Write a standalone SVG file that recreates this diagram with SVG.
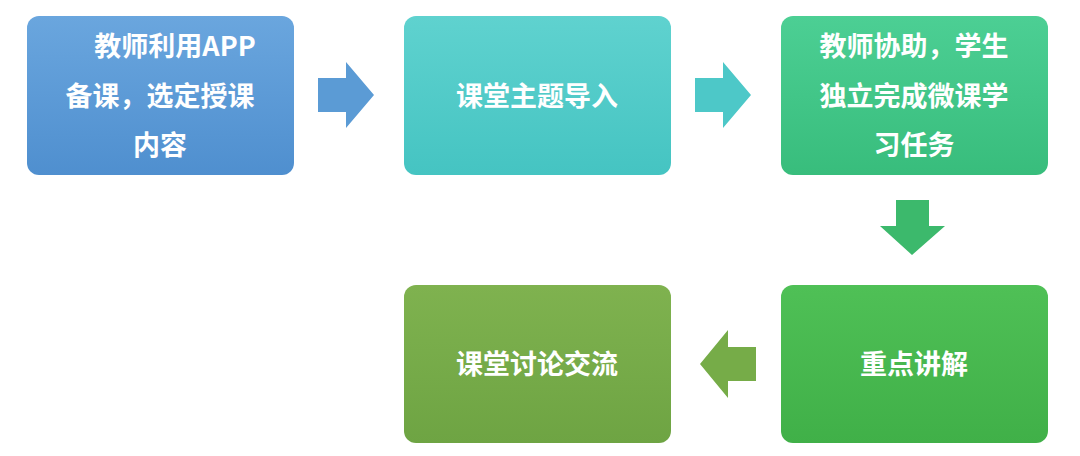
<svg xmlns="http://www.w3.org/2000/svg" width="1080" height="456" viewBox="0 0 1080 456">
<defs>
<linearGradient id="g1" x1="0" y1="0" x2="0" y2="1"><stop offset="0" stop-color="#6aa6de"/><stop offset="1" stop-color="#4f8fcf"/></linearGradient>
<linearGradient id="g2" x1="0" y1="0" x2="0" y2="1"><stop offset="0" stop-color="#5fd2cf"/><stop offset="1" stop-color="#45c4c2"/></linearGradient>
<linearGradient id="g3" x1="0" y1="0" x2="0" y2="1"><stop offset="0" stop-color="#4ccf94"/><stop offset="1" stop-color="#38bd7c"/></linearGradient>
<linearGradient id="g4" x1="0" y1="0" x2="0" y2="1"><stop offset="0" stop-color="#7fb24f"/><stop offset="1" stop-color="#6ea443"/></linearGradient>
<linearGradient id="g5" x1="0" y1="0" x2="0" y2="1"><stop offset="0" stop-color="#4fc056"/><stop offset="1" stop-color="#40b048"/></linearGradient>
</defs>
<style>
text{font-family:"Noto Sans CJK SC","Liberation Sans",sans-serif;font-weight:bold;font-size:27px;fill:#fff;text-anchor:middle}
</style>
<rect width="1080" height="456" fill="#fff"/>
<g id="connectors">
<polygon points="318,78 346,78 346,62 374,95 346,128 346,112 318,112" fill="#5b9bd5"/>
<polygon points="695,78 723,78 723,62 751,95 723,128 723,112 695,112" fill="#4dc8c8"/>
<polygon points="896,200 929,200 929,226 945,226 912,255 880,226 896,226" fill="#3cb96c"/>
<polygon points="756,347 728,347 728,330 700,364 728,398 728,381 756,381" fill="#76ac48"/>
</g>
<g id="n1"><rect x="27" y="16" width="267" height="159" rx="12" fill="url(#g1)"/>
<text x="175" y="56">教师利用APP</text><text x="160" y="106">备课，选定授课</text><text x="160" y="155">内容</text></g>
<g id="n2"><rect x="404" y="16" width="267" height="159" rx="12" fill="url(#g2)"/>
<text x="537" y="106">课堂主题导入</text></g>
<g id="n3"><rect x="781" y="16" width="267" height="159" rx="12" fill="url(#g3)"/>
<text x="914" y="56">教师协助，学生</text><text x="914" y="106">独立完成微课学</text><text x="914" y="155">习任务</text></g>
<g id="n4"><rect x="781" y="285" width="267" height="158" rx="12" fill="url(#g5)"/>
<text x="914" y="374">重点讲解</text></g>
<g id="n5"><rect x="404" y="285" width="267" height="158" rx="12" fill="url(#g4)"/>
<text x="537" y="374">课堂讨论交流</text></g>
</svg>
